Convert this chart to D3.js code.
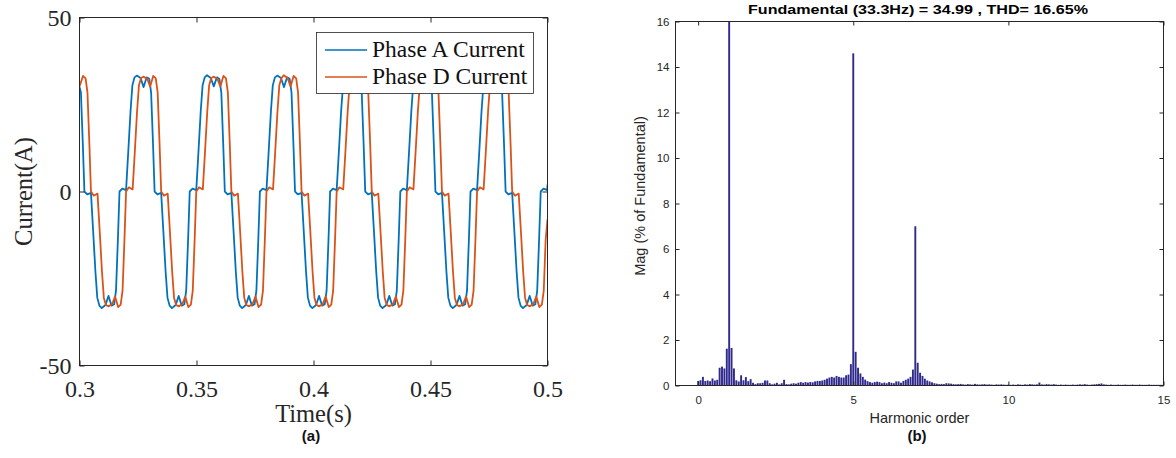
<!DOCTYPE html>
<html>
<head>
<meta charset="utf-8">
<script src="https://cdn.jsdelivr.net/npm/d3@7"></script>
<style>
  body { margin: 0; background: #fff; }
  svg { display: block; }
</style>
</head>
<body>
<svg id="chart" width="1176" height="458"></svg>
<script>
// ---------- (a) phase currents ----------
const timeTicks = [0.3, 0.35, 0.4, 0.45, 0.5];
const currentTicks = [-50, 0, 50];
const seriesNames = ['Phase A Current', 'Phase D Current'];

// [time (s), current (A)]
const phaseA = [
  [0.3000, 30.0], [0.3006, 28.5], [0.3014, 14],
  [0.3021, 0], [0.3033, -0.8], [0.3049, -0.4], [0.3058, -11], [0.3068, -23], [0.3076, -30.5], [0.3085, -32.8], [0.3095, -33.5], [0.3111, -32.6], [0.3124, -30.0], [0.3137, -32.8], [0.3148, -32.4], [0.3156, -28.5], [0.3164, -14],
  [0.3171, 0], [0.3183, 0.8], [0.3199, 0.4], [0.3208, 11], [0.3218, 23], [0.3226, 30.5], [0.3235, 32.8], [0.3245, 33.3], [0.3261, 32.6], [0.3274, 30.0], [0.3287, 32.8], [0.3298, 32.4], [0.3306, 28.5], [0.3314, 14],
  [0.3321, 0], [0.3333, -0.8], [0.3349, -0.4], [0.3358, -11], [0.3368, -23], [0.3376, -30.5], [0.3385, -32.8], [0.3395, -33.5], [0.3411, -32.6], [0.3424, -30.0], [0.3437, -32.8], [0.3448, -32.4], [0.3456, -28.5], [0.3464, -14],
  [0.3471, 0], [0.3483, 0.8], [0.3499, 0.4], [0.3508, 11], [0.3518, 23], [0.3526, 30.5], [0.3535, 32.8], [0.3545, 33.4], [0.3561, 32.6], [0.3574, 30.2], [0.3587, 32.8], [0.3598, 32.3], [0.3606, 28.5], [0.3614, 14],
  [0.3621, 0], [0.3633, -0.8], [0.3649, -0.4], [0.3658, -11], [0.3668, -23], [0.3676, -30.5], [0.3685, -32.8], [0.3695, -33.5], [0.3711, -32.6], [0.3724, -30.0], [0.3737, -32.8], [0.3748, -32.4], [0.3756, -28.5], [0.3764, -14],
  [0.3771, 0], [0.3783, 0.8], [0.3799, 0.4], [0.3808, 11], [0.3818, 23], [0.3826, 30.5], [0.3835, 32.8], [0.3845, 33.3], [0.3861, 32.6], [0.3874, 30.0], [0.3887, 32.8], [0.3898, 32.4], [0.3906, 28.5], [0.3914, 14],
  [0.3921, 0], [0.3933, -0.8], [0.3949, -0.4], [0.3958, -11], [0.3968, -23], [0.3976, -30.5], [0.3985, -32.8], [0.3995, -33.5], [0.4011, -32.6], [0.4024, -30.0], [0.4037, -32.8], [0.4048, -32.4], [0.4056, -28.5], [0.4064, -14],
  [0.4071, 0], [0.4083, 0.8], [0.4099, 0.4], [0.4108, 11], [0.4118, 23], [0.4126, 30.5], [0.4135, 32.8], [0.4145, 33.3], [0.4161, 32.6], [0.4174, 30.0], [0.4187, 32.8], [0.4198, 32.4], [0.4206, 28.5], [0.4214, 14],
  [0.4221, 0], [0.4233, -0.8], [0.4249, -0.4], [0.4258, -11], [0.4268, -23], [0.4276, -30.5], [0.4285, -32.8], [0.4295, -33.5], [0.4311, -32.6], [0.4324, -30.0], [0.4337, -32.8], [0.4348, -32.4], [0.4356, -28.5], [0.4364, -14],
  [0.4371, 0], [0.4383, 0.8], [0.4399, 0.4], [0.4408, 11], [0.4418, 23], [0.4426, 30.5], [0.4435, 32.8], [0.4445, 33.3], [0.4461, 32.6], [0.4474, 30.0], [0.4487, 32.8], [0.4498, 32.4], [0.4506, 28.5], [0.4514, 14],
  [0.4521, 0], [0.4533, -0.8], [0.4549, -0.4], [0.4558, -11], [0.4568, -23], [0.4576, -30.5], [0.4585, -32.8], [0.4595, -33.5], [0.4611, -32.6], [0.4624, -30.0], [0.4637, -32.8], [0.4648, -32.4], [0.4656, -28.5], [0.4664, -14],
  [0.4671, 0], [0.4683, 0.8], [0.4699, 0.4], [0.4708, 11], [0.4718, 23], [0.4726, 30.5], [0.4735, 32.8], [0.4745, 33.3], [0.4761, 32.6], [0.4774, 30.0], [0.4787, 32.8], [0.4798, 32.4], [0.4806, 28.5], [0.4814, 14],
  [0.4821, 0], [0.4833, -0.8], [0.4849, -0.4], [0.4858, -11], [0.4868, -23], [0.4876, -30.5], [0.4885, -32.8], [0.4895, -33.5], [0.4911, -32.6], [0.4924, -30.0], [0.4937, -32.8], [0.4948, -32.4], [0.4956, -28.5], [0.4964, -14],
  [0.4971, 0], [0.4983, 0.8], [0.4999, 0.4], [0.5000, 2]
];

const phaseD = [
  [0.3000, 30.2], [0.3015, 33.2], [0.3026, 32.5], [0.3034, 28.5], [0.3042, 14],
  [0.3049, 0], [0.3061, -1.2], [0.3077, -0.6], [0.3086, -11], [0.3096, -23], [0.3104, -30.5], [0.3113, -32.6], [0.3123, -33.0], [0.3139, -32.4], [0.3152, -30.2], [0.3165, -33.2], [0.3176, -32.5], [0.3184, -28.5], [0.3192, -14],
  [0.3199, 0], [0.3211, 1.2], [0.3227, 0.6], [0.3236, 11], [0.3246, 23], [0.3254, 30.5], [0.3263, 32.6], [0.3273, 33.0], [0.3289, 32.4], [0.3302, 30.2], [0.3315, 33.2], [0.3326, 32.5], [0.3334, 28.5], [0.3342, 14],
  [0.3349, 0], [0.3361, -1.2], [0.3377, -0.6], [0.3386, -11], [0.3396, -23], [0.3404, -30.5], [0.3413, -32.6], [0.3423, -33.0], [0.3439, -32.4], [0.3452, -30.2], [0.3465, -33.2], [0.3476, -32.5], [0.3484, -28.5], [0.3492, -14],
  [0.3499, 0], [0.3511, 1.2], [0.3527, 0.6], [0.3536, 11], [0.3546, 23], [0.3554, 30.5], [0.3563, 32.6], [0.3573, 33.0], [0.3589, 32.4], [0.3602, 30.2], [0.3615, 33.2], [0.3626, 32.5], [0.3634, 28.5], [0.3642, 14],
  [0.3649, 0], [0.3661, -1.2], [0.3677, -0.6], [0.3686, -11], [0.3696, -23], [0.3704, -30.5], [0.3713, -32.6], [0.3723, -33.0], [0.3739, -32.4], [0.3752, -30.2], [0.3765, -33.2], [0.3776, -32.5], [0.3784, -28.5], [0.3792, -14],
  [0.3799, 0], [0.3811, 1.2], [0.3827, 0.6], [0.3836, 11], [0.3846, 23], [0.3854, 30.5], [0.3863, 32.6], [0.3873, 33.4], [0.3889, 32.6], [0.3902, 30.2], [0.3915, 33.2], [0.3926, 32.5], [0.3934, 28.5], [0.3942, 14],
  [0.3949, 0], [0.3961, -1.2], [0.3977, -0.6], [0.3986, -11], [0.3996, -23], [0.4004, -30.5], [0.4013, -32.6], [0.4023, -33.0], [0.4039, -32.4], [0.4052, -30.2], [0.4065, -33.2], [0.4076, -32.5], [0.4084, -28.5], [0.4092, -14],
  [0.4099, 0], [0.4111, 1.2], [0.4127, 0.6], [0.4136, 11], [0.4146, 23], [0.4154, 30.5], [0.4163, 32.6], [0.4173, 33.0], [0.4189, 32.4], [0.4202, 30.2], [0.4215, 33.2], [0.4226, 32.5], [0.4234, 28.5], [0.4242, 14],
  [0.4249, 0], [0.4261, -1.2], [0.4277, -0.6], [0.4286, -11], [0.4296, -23], [0.4304, -30.5], [0.4313, -32.6], [0.4323, -33.0], [0.4339, -32.4], [0.4352, -30.2], [0.4365, -33.2], [0.4376, -32.5], [0.4384, -28.5], [0.4392, -14],
  [0.4399, 0], [0.4411, 1.2], [0.4427, 0.6], [0.4436, 11], [0.4446, 23], [0.4454, 30.5], [0.4463, 32.6], [0.4473, 33.0], [0.4489, 32.4], [0.4502, 30.2], [0.4515, 33.2], [0.4526, 32.5], [0.4534, 28.5], [0.4542, 14],
  [0.4549, 0], [0.4561, -1.2], [0.4577, -0.6], [0.4586, -11], [0.4596, -23], [0.4604, -30.5], [0.4613, -32.6], [0.4623, -33.0], [0.4639, -32.4], [0.4652, -30.2], [0.4665, -33.2], [0.4676, -32.5], [0.4684, -28.5], [0.4692, -14],
  [0.4699, 0], [0.4711, 1.2], [0.4727, 0.6], [0.4736, 11], [0.4746, 23], [0.4754, 30.5], [0.4763, 32.6], [0.4773, 33.0], [0.4789, 32.4], [0.4802, 30.2], [0.4815, 33.2], [0.4826, 32.5], [0.4834, 28.5], [0.4842, 14],
  [0.4849, 0], [0.4861, -1.2], [0.4877, -0.6], [0.4886, -11], [0.4896, -23], [0.4904, -30.5], [0.4913, -32.6], [0.4923, -33.0], [0.4939, -32.4], [0.4952, -30.2], [0.4965, -33.2], [0.4976, -32.5], [0.4984, -28.5], [0.4992, -14],
  [0.5000, -8]
];

// ---------- (b) FFT of phase A ----------
const fftTitle = 'Fundamental (33.3Hz) = 34.99 , THD= 16.65%';
const binsPerHarmonic = 13; // one row per harmonic below
const harmonicTicks = [0, 5, 10, 15];
const magTicks = [0, 2, 4, 6, 8, 10, 12, 14, 16];
const harmonicMag = [
  0.20, 0.23, 0.38, 0.20, 0.22, 0.19, 0.31, 0.22, 0.25, 0.78, 0.83, 0.75, 1.62,
  100, 1.65, 0.75, 0.23, 0.18, 0.45, 0.23, 0.37, 0.19, 0.28, 0.12, 0.06, 0.10,
  0.10, 0.12, 0.22, 0.22, 0.10, 0.05, 0.08, 0.12, 0.05, 0.10, 0.25, 0.06, 0.05,
  0.08, 0.10, 0.08, 0.12, 0.15, 0.12, 0.15, 0.13, 0.15, 0.14, 0.18, 0.20, 0.20,
  0.22, 0.25, 0.30, 0.35, 0.38, 0.35, 0.42, 0.38, 0.35, 0.35, 0.45, 0.48, 0.94,
  14.6, 1.48, 0.78, 0.53, 0.38, 0.26, 0.19, 0.15, 0.12, 0.15, 0.17, 0.15, 0.10,
  0.13, 0.10, 0.15, 0.12, 0.10, 0.18, 0.18, 0.12, 0.20, 0.25, 0.30, 0.38, 0.70,
  7.0, 1.00, 0.56, 0.42, 0.30, 0.22, 0.18, 0.14, 0.10, 0.08, 0.06, 0.07, 0.06,
  0.10, 0.09, 0.08, 0.06, 0.05, 0.06, 0.07, 0.05, 0.04, 0.06, 0.05, 0.04, 0.07,
  0.05, 0.04, 0.05, 0.06, 0.04, 0.05, 0.04, 0.03, 0.05, 0.04, 0.05, 0.04, 0.03,
  0.04, 0.03, 0.04, 0.03, 0.05, 0.04, 0.03, 0.05, 0.04, 0.06, 0.05, 0.04, 0.05,
  0.13, 0.05, 0.04, 0.06, 0.05, 0.04, 0.06, 0.04, 0.03, 0.04, 0.03, 0.04, 0.03,
  0.03, 0.04, 0.03, 0.04, 0.05, 0.04, 0.06, 0.04, 0.03, 0.04, 0.05, 0.06, 0.07,
  0.09, 0.05, 0.04, 0.03, 0.04, 0.03, 0.03, 0.04, 0.03, 0.03, 0.04, 0.03, 0.03,
  0.04, 0.03, 0.03, 0.04, 0.03, 0.03, 0.03, 0.04, 0.03, 0.03, 0.03, 0.03, 0.03,
  0.03
];

const axisColor = '#262626';
const colorA = '#0072BD', colorD = '#D95319';
const serif = '"Liberation Serif", "Times New Roman", serif';
const sans = '"Liberation Sans", Arial, sans-serif';

const svg = d3.select('#chart');

function styleAxis(g, font, size) {
  g.select('.domain').remove();
  g.attr('font-family', font).attr('font-size', size);
  g.selectAll('line').attr('stroke', axisColor);
  g.selectAll('text').attr('fill', axisColor);
}

// ================= panel (a) =================
const boxA = { left: 79.5, top: 17.5, right: 547.5, bottom: 365.5 };
const xA = d3.scaleLinear().domain([0.3, 0.5]).range([boxA.left, boxA.right]);
const yA = d3.scaleLinear().domain([-50, 50]).range([boxA.bottom, boxA.top]);

const gA = svg.append('g');
gA.append('clipPath').attr('id', 'clipA').append('rect')
  .attr('x', boxA.left).attr('y', boxA.top)
  .attr('width', boxA.right - boxA.left).attr('height', boxA.bottom - boxA.top);

const lineA = d3.line().x(d => xA(d[0])).y(d => yA(d[1]));
gA.append('g').attr('clip-path', 'url(#clipA)')
  .selectAll('path').data([[phaseA, colorA], [phaseD, colorD]]).join('path')
  .attr('d', d => lineA(d[0])).attr('fill', 'none')
  .attr('stroke', d => d[1]).attr('stroke-width', 1.8).attr('stroke-linejoin', 'round');

gA.append('g').attr('transform', `translate(0,${boxA.bottom})`)
  .call(d3.axisBottom(xA).tickValues(timeTicks).tickSizeInner(-5).tickSizeOuter(0).tickPadding(14).tickFormat(d => String(d)))
  .call(g => styleAxis(g, serif, 24));
gA.append('g').attr('transform', `translate(0,${boxA.top})`)
  .call(d3.axisTop(xA).tickValues(timeTicks).tickSizeInner(-5).tickSizeOuter(0).tickFormat(''))
  .call(g => styleAxis(g, serif, 24));
gA.append('g').attr('transform', `translate(${boxA.left},0)`)
  .call(d3.axisLeft(yA).tickValues(currentTicks).tickSizeInner(-5).tickSizeOuter(0).tickPadding(8).tickFormat(d => String(d)))
  .call(g => styleAxis(g, serif, 24));
gA.append('g').attr('transform', `translate(${boxA.right},0)`)
  .call(d3.axisRight(yA).tickValues(currentTicks).tickSizeInner(-5).tickSizeOuter(0).tickFormat(''))
  .call(g => styleAxis(g, serif, 24));
gA.append('rect')
  .attr('x', boxA.left).attr('y', boxA.top)
  .attr('width', boxA.right - boxA.left).attr('height', boxA.bottom - boxA.top)
  .attr('fill', 'none').attr('stroke', axisColor);

gA.append('text').attr('x', (boxA.left + boxA.right) / 2).attr('y', 422)
  .attr('text-anchor', 'middle').attr('font-family', serif).attr('font-size', 24.5)
  .attr('fill', axisColor).text('Time(s)');
gA.append('text').attr('transform', `translate(32,${yA(0)}) rotate(-90)`)
  .attr('text-anchor', 'middle').attr('font-family', serif).attr('font-size', 24.5)
  .attr('fill', axisColor).text('Current(A)');
svg.append('text').attr('x', 311).attr('y', 441).attr('text-anchor', 'middle')
  .attr('font-family', sans).attr('font-weight', 'bold').attr('font-size', 15)
  .attr('fill', '#111').text('(a)');

// legend
const legend = gA.append('g').attr('transform', 'translate(316.5,32.5)');
legend.append('rect').attr('width', 217).attr('height', 61)
  .attr('fill', '#fff').attr('stroke', axisColor).attr('stroke-width', 0.8);
const item = legend.selectAll('g.item').data(seriesNames).join('g').attr('class', 'item')
  .attr('transform', (d, i) => `translate(0,${17.5 + i * 27})`);
item.append('line').attr('x1', 8.5).attr('x2', 50.5)
  .attr('stroke', (d, i) => [colorA, colorD][i]).attr('stroke-width', 1.3);
item.append('text').attr('x', 55.5).attr('y', 7)
  .attr('font-family', serif).attr('font-size', 23.5).attr('fill', '#111').text(d => d);

// ================= panel (b) =================
const boxB = { left: 675.5, top: 21.5, right: 1163.5, bottom: 385.5 };
const xB = d3.scaleLinear().domain([-0.73, 15]).range([boxB.left, boxB.right]);
const yB = d3.scaleLinear().domain([0, 16]).range([boxB.bottom, boxB.top]);
const binStep = xB(1 / binsPerHarmonic) - xB(0);

const gB = svg.append('g');
gB.append('clipPath').attr('id', 'clipB').append('rect')
  .attr('x', boxB.left).attr('y', boxB.top)
  .attr('width', boxB.right - boxB.left).attr('height', boxB.bottom - boxB.top);

gB.append('g').attr('clip-path', 'url(#clipB)')
  .selectAll('rect').data(harmonicMag).join('rect')
  .attr('x', (d, i) => xB(i / binsPerHarmonic) - binStep * 0.4)
  .attr('width', binStep * 0.8)
  .attr('y', d => yB(d))
  .attr('height', d => yB(0) - yB(d))
  .attr('fill', '#302a8c');

gB.append('g').attr('transform', `translate(0,${boxB.bottom})`)
  .call(d3.axisBottom(xB).tickValues(harmonicTicks).tickSizeInner(-4).tickSizeOuter(0).tickPadding(10))
  .call(g => styleAxis(g, sans, 11.5));
gB.append('g').attr('transform', `translate(0,${boxB.top})`)
  .call(d3.axisTop(xB).tickValues(harmonicTicks).tickSizeInner(-4).tickSizeOuter(0).tickFormat(''))
  .call(g => styleAxis(g, sans, 11.5));
gB.append('g').attr('transform', `translate(${boxB.left},0)`)
  .call(d3.axisLeft(yB).tickValues(magTicks).tickSizeInner(-4).tickSizeOuter(0).tickPadding(6))
  .call(g => styleAxis(g, sans, 11.5));
gB.append('g').attr('transform', `translate(${boxB.right},0)`)
  .call(d3.axisRight(yB).tickValues(magTicks).tickSizeInner(-4).tickSizeOuter(0).tickFormat(''))
  .call(g => styleAxis(g, sans, 11.5));
gB.append('rect')
  .attr('x', boxB.left).attr('y', boxB.top)
  .attr('width', boxB.right - boxB.left).attr('height', boxB.bottom - boxB.top)
  .attr('fill', 'none').attr('stroke', axisColor);

gB.append('text').attr('x', 918).attr('y', 14).attr('text-anchor', 'middle')
  .attr('font-family', sans).attr('font-weight', 'bold').attr('font-size', 13)
  .attr('textLength', 340).attr('lengthAdjust', 'spacingAndGlyphs')
  .attr('fill', '#000').text(fftTitle);
gB.append('text').attr('x', 919.5).attr('y', 423).attr('text-anchor', 'middle')
  .attr('font-family', sans).attr('font-size', 14.5).attr('fill', axisColor).text('Harmonic order');
gB.append('text').attr('transform', `translate(645,196) rotate(-90)`).attr('text-anchor', 'middle')
  .attr('font-family', sans).attr('font-size', 14.5).attr('fill', axisColor).text('Mag (% of Fundamental)');
svg.append('text').attr('x', 917).attr('y', 441).attr('text-anchor', 'middle')
  .attr('font-family', sans).attr('font-weight', 'bold').attr('font-size', 15)
  .attr('fill', '#111').text('(b)');
</script>
</body>
</html>
